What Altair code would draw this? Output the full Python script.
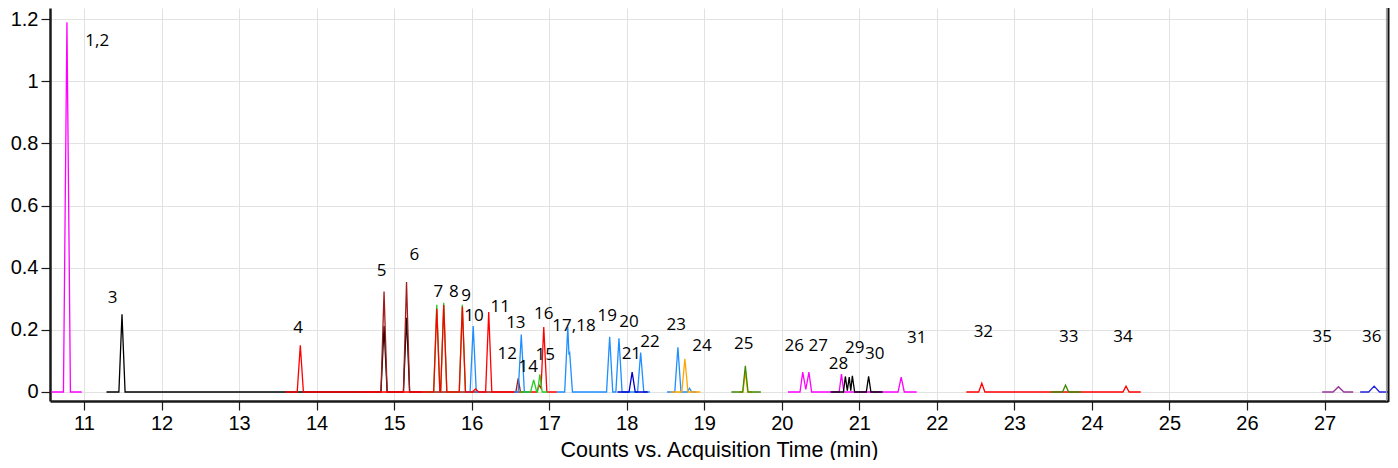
import altair as alt
import pandas as pd

# ---------------- axes ----------------
X_DOMAIN = [10.5615, 27.819]
Y_DOMAIN = [-0.029, 1.236]
X_TICKS = list(range(11, 28))
Y_TICKS = [0, 0.2, 0.4, 0.6, 0.8, 1.0, 1.2]
X_TITLE = "Counts vs. Acquisition Time (min)"

# ---------------- traces (time, counts) ----------------
# peaks 1,2 (magenta)
M1_X = [10.58, 10.735, 10.78, 10.825, 10.97]
M1_Y = [0, 0, 1.19, 0, 0]
# peaks 3, 5, 6 (black)
K1_X = [11.29, 11.45, 11.49, 11.53, 14.83, 14.87, 14.91, 15.12, 15.16, 15.20, 15.35]
K1_Y = [0, 0, 0.25, 0, 0, 0.212, 0, 0, 0.239, 0, 0]
# peaks 5, 6, 12 (dark red)
DR_X = [14.60, 14.83, 14.87, 14.91, 15.12, 15.16, 15.20, 16.57, 16.60, 16.63, 16.70]
DR_Y = [0, 0, 0.323, 0, 0, 0.354, 0, 0, 0.044, 0, 0]
# peaks 7, 8, 9 (green, behind red)
G1_X = [15.40, 15.51, 15.55, 15.59, 15.60, 15.64, 15.68, 15.84, 15.88, 15.92, 16.00]
G1_Y = [0, 0, 0.281, 0, 0, 0.287, 0, 0, 0.281, 0, 0]
# peak 10 (blue)
B1_X = [15.92, 15.98, 16.02, 16.06, 16.12]
B1_Y = [0, 0, 0.212, 0, 0]
# peaks 4, 7, 8, 9, 11, 16 (red)
R1_X = [13.60, 13.75, 13.79, 13.83, 15.51, 15.55, 15.59, 15.60, 15.64, 15.68,
        15.84, 15.88, 15.92, 16.01, 16.05, 16.09, 16.18, 16.22, 16.26,
        16.84, 16.87, 16.895, 16.93, 16.97, 17.10]
R1_Y = [0, 0, 0.150, 0, 0, 0.268, 0, 0, 0.280, 0,
        0, 0.275, 0, 0, 0.010, 0, 0, 0.257, 0,
        0, 0.022, 0.012, 0.209, 0, 0]
# peak 13 (blue)
B2_X = [16.55, 16.60, 16.64, 16.68, 16.74]
B2_Y = [0, 0, 0.185, 0, 0]
# peaks 14, 15 (green)
G2_X = [16.62, 16.76, 16.80, 16.84, 16.85, 16.88, 16.91, 16.98]
G2_Y = [0, 0, 0.039, 0, 0, 0.057, 0, 0]
# peaks 17,18, 19, 20, 22 (blue)
B3_X = [17.10, 17.20, 17.24, 17.255, 17.265, 17.30, 17.74, 17.78, 17.82,
        17.86, 17.90, 17.94, 18.14, 18.18, 18.22, 18.30]
B3_Y = [0, 0, 0.209, 0.12, 0.125, 0, 0, 0.178, 0,
        0, 0.173, 0, 0, 0.127, 0, 0]
# peak 21 (dark blue)
DB_X = [17.88, 18.03, 18.07, 18.11, 18.27]
DB_Y = [0, 0, 0.064, 0, 0]
# peak 23 (blue)
B4_X = [18.52, 18.62, 18.66, 18.70, 18.78, 18.81, 18.84, 18.90]
B4_Y = [0, 0, 0.144, 0, 0, 0.012, 0, 0]
# peak 24 (orange)
O1_X = [18.57, 18.71, 18.75, 18.79, 18.95]
O1_Y = [0, 0, 0.107, 0, 0]
# peak 25 (orange core, dark green)
O2_X = [19.45, 19.50, 19.53, 19.56, 19.62]
O2_Y = [0, 0, 0.065, 0, 0]
DG1_X = [19.35, 19.495, 19.53, 19.565, 19.73]
DG1_Y = [0, 0, 0.084, 0, 0]
# peaks 26, 27, 28, 31 (magenta)
M2_X = [20.08, 20.235, 20.27, 20.31, 20.35, 20.385, 20.74, 20.77, 20.80,
        21.50, 21.54, 21.58, 21.74]
M2_Y = [0, 0, 0.064, 0.008, 0.064, 0, 0, 0.058, 0,
        0, 0.048, 0, 0]
# peaks 29, 30 (black)
K2_X = [20.63, 20.795, 20.82, 20.845, 20.87, 20.89, 20.91, 20.94, 21.09, 21.12, 21.15, 21.30]
K2_Y = [0, 0, 0.05, 0.004, 0.048, 0.004, 0.052, 0, 0, 0.05, 0, 0]
# peaks 32, 34 (red)
R2_X = [22.38, 22.54, 22.58, 22.62, 24.40, 24.44, 24.48, 24.63]
R2_Y = [0, 0, 0.028, 0, 0, 0.019, 0, 0]
# peak 33 (dark green)
DG2_X = [23.47, 23.62, 23.66, 23.70, 23.86]
DG2_Y = [0, 0, 0.022, 0, 0]
# peak 35 (purple)
P_X = [26.97, 27.11, 27.18, 27.25, 27.37]
P_Y = [0, 0, 0.017, 0, 0]
# peak 36 (blue)
BB_X = [27.46, 27.57, 27.64, 27.71, 27.819]
BB_Y = [0, 0, 0.019, 0, 0.0]

# ---------------- peak labels ----------------
LABEL_TEXT = ["1,2", "3", "4", "5", "6", "7", "8", "9", "10", "11", "12", "13",
              "14", "15", "16", "17,18", "19", "20", "21", "22", "23", "24", "25",
              "26", "27", "28", "29", "30", "31", "32", "33", "34", "35", "36"]
LABEL_X = [11.17, 11.37, 13.76, 14.84, 15.26, 15.57, 15.77, 15.93, 16.03, 16.37,
           16.46, 16.57, 16.73, 16.95, 16.93, 17.32, 17.75, 18.03, 18.06, 18.30,
           18.64, 18.97, 19.51, 20.16, 20.47, 20.73, 20.94, 21.20, 21.74, 22.60,
           23.70, 24.40, 26.97, 27.61]
LABEL_Y = [1.129, 0.302, 0.205, 0.389, 0.440, 0.321, 0.321, 0.309, 0.245, 0.273,
           0.122, 0.221, 0.080, 0.118, 0.250, 0.211, 0.244, 0.224, 0.122, 0.160,
           0.215, 0.147, 0.153, 0.147, 0.147, 0.089, 0.141, 0.122, 0.173, 0.192,
           0.176, 0.176, 0.176, 0.176]

TRACES = [
    ("#FF00FF", M1_X, M1_Y),
    ("#000000", K1_X, K1_Y),
    ("#9E1C1C", DR_X, DR_Y),
    ("#22CC22", G1_X, G1_Y),
    ("#1E8FFF", B1_X, B1_Y),
    ("#FF0000", R1_X, R1_Y),
    ("#1E8FFF", B2_X, B2_Y),
    ("#22CC22", G2_X, G2_Y),
    ("#1E8FFF", B3_X, B3_Y),
    ("#0000CC", DB_X, DB_Y),
    ("#1E8FFF", B4_X, B4_Y),
    ("#FFA500", O1_X, O1_Y),
    ("#FFA500", O2_X, O2_Y),
    ("#3D8B00", DG1_X, DG1_Y),
    ("#FF00FF", M2_X, M2_Y),
    ("#000000", K2_X, K2_Y),
    ("#FF0000", R2_X, R2_Y),
    ("#3D8B00", DG2_X, DG2_Y),
    ("#993399", P_X, P_Y),
    ("#2222DD", BB_X, BB_Y),
]

W, H = 1338, 393

xenc = alt.X(
    "x:Q",
    scale=alt.Scale(domain=X_DOMAIN, nice=False, zero=False),
    axis=alt.Axis(values=X_TICKS, title=X_TITLE, tickSize=9, labelPadding=3,
                  titlePadding=6, labelFlush=False, format="d"),
)
yenc = alt.Y(
    "y:Q",
    scale=alt.Scale(domain=Y_DOMAIN, nice=False, zero=False),
    axis=alt.Axis(values=Y_TICKS, title=None, tickSize=9, labelPadding=3,
                  format=".1~f", labelFlush=False),
)

layers = []
for color, xs, ys in TRACES:
    df = pd.DataFrame({"x": xs, "y": ys, "i": list(range(len(xs)))})
    layers.append(
        alt.Chart(df)
        .mark_line(color=color, strokeWidth=1.3)
        .encode(x=xenc, y=yenc, order="i:Q")
    )

lab_df = pd.DataFrame({"x": LABEL_X, "y": LABEL_Y, "t": LABEL_TEXT})
text = (
    alt.Chart(lab_df)
    .mark_text(font="Open Sans", fontSize=17, color="black", align="center", baseline="middle")
    .encode(x=xenc, y=yenc, text="t:N")
)

one = pd.DataFrame({"a": [0]})
right_gray = alt.Chart(one).mark_rule(color="#a0a0a0", strokeWidth=1.2).encode(
    x=alt.value(W - 1.5), y=alt.value(0), y2=alt.value(H)
)
right_black = alt.Chart(one).mark_rule(color="#111111", strokeWidth=2).encode(
    x=alt.value(W + 0.5), y=alt.value(0), y2=alt.value(H + 1)
)

chart = (
    alt.layer(*layers, text, right_gray, right_black)
    .properties(
        width=W,
        height=H,
        autosize=alt.AutoSizeParams(type="none"),
        padding={"left": 42, "top": 0, "right": 2, "bottom": 59},
    )
    .configure_view(stroke=None)
    .configure_axis(
        gridColor="#E2E2E2",
        gridWidth=1,
        domainColor="#1a1a1a",
        domainWidth=2.5,
        tickColor="#1a1a1a",
        tickWidth=1.2,
        labelColor="black",
        labelFont="Liberation Sans",
        labelFontSize=20,
        titleFont="Liberation Sans",
        titleFontSize=21.5,
        titleFontWeight="normal",
        titleColor="black",
    )
)

chart.save("out.html", embed_options={"renderer": "svg", "actions": False})
